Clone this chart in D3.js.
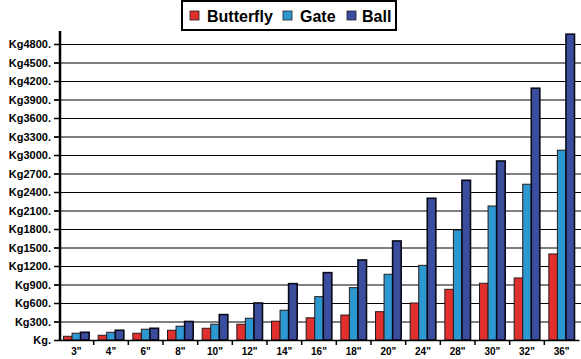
<!DOCTYPE html>
<html><head><meta charset="utf-8">
<script src="https://cdn.jsdelivr.net/npm/d3@7/dist/d3.min.js"></script>
<style>
body{margin:0;background:#fff;}
text{font-family:"Liberation Sans",Arial,sans-serif;font-weight:bold;}
</style></head>
<body>
<svg id="chart" width="581" height="359"></svg>
<script>
const categories = ['3"','4"','6"','8"','10"','12"','14"','16"','18"','20"','24"','28"','30"','32"','36"'];
const seriesNames = ["Butterfly","Gate","Ball"];
const butterfly = [60, 77, 110, 158, 190, 255, 305, 360, 405, 459, 600, 822, 920, 1006, 1395];
const gate = [110, 125, 175, 224, 256, 353, 483, 703, 849, 1066, 1211, 1784, 2173, 2526, 3078];
const ball = [125, 158, 190, 300, 412, 600, 914, 1092, 1298, 1606, 2298, 2590, 2903, 4083, 4959];
const yTicks = [0,300,600,900,1200,1500,1800,2100,2400,2700,3000,3300,3600,3900,4200,4500,4800];
const colors = ["#e0302e","#2d97cf","#3b4e9e"];

const svg = d3.select("#chart");
const x = d3.scaleBand().domain(categories).range([59, 579]).padding(0);
const x1 = d3.scaleBand().domain(seriesNames).range([4.5, x.bandwidth()-4.5]).padding(0);
const y = d3.scaleLinear().domain([0, 4800]).range([340, 44]);

// gridlines
svg.append("g").selectAll("line").data(yTicks.filter(d=>d>0)).join("line")
  .attr("x1", 54).attr("x2", 581)
  .attr("y1", d=>y(d)+0.5).attr("y2", d=>y(d)+0.5)
  .attr("stroke","#000").attr("stroke-width",1);

// y labels
svg.append("g").selectAll("text").data(yTicks).join("text")
  .attr("x", 51).attr("y", d=>y(d)+4)
  .attr("text-anchor","end").attr("font-size","11px").attr("fill","#000")
  .text(d => "Kg" + (d===0 ? "" : d) + ".");

// bars
const data = [butterfly, gate, ball];
const groups = svg.append("g");
categories.forEach((c,i)=>{
  seriesNames.forEach((s,j)=>{
    const v = data[j][i];
    groups.append("rect")
      .attr("x", x(c)+x1(s))
      .attr("y", y(v))
      .attr("width", x1.bandwidth())
      .attr("height", y(0)-y(v))
      .attr("fill", colors[j])
      .attr("stroke", j===2 ? "#0a0a1a" : "#2a1a1a")
      .attr("stroke-width", j===2 ? 1.6 : 1);
  });
});

// y axis line
svg.append("line").attr("x1",60).attr("x2",60).attr("y1",31).attr("y2",341)
  .attr("stroke","#000").attr("stroke-width",2.5);
// y ticks
svg.append("g").selectAll("line").data(yTicks).join("line")
  .attr("x1",54).attr("x2",60).attr("y1",d=>y(d)+0.5).attr("y2",d=>y(d)+0.5)
  .attr("stroke","#000").attr("stroke-width",1.5);

// x axis
const xAxis = d3.axisBottom(x).tickSize(0).tickPadding(8);
const gx = svg.append("g").attr("transform","translate(0,340)").call(xAxis);
gx.select(".domain").attr("stroke","#000").attr("stroke-width",1.5);
gx.selectAll("text").attr("font-size","10px").attr("font-family","Liberation Sans, Arial, sans-serif").attr("font-weight","bold").attr("fill","#000");
// boundary ticks
svg.append("g").selectAll("line").data(categories.slice(1)).join("line")
  .attr("x1",d=>x(d)).attr("x2",d=>x(d)).attr("y1",340).attr("y2",345)
  .attr("stroke","#000").attr("stroke-width",1.5);

// legend
const lg = svg.append("g");
lg.append("rect").attr("x",182).attr("y",1).attr("width",214).attr("height",29)
  .attr("fill","#fff").attr("stroke","#000").attr("stroke-width",2);
const legendX = [190, 283, 347];
const textX = [207, 300, 362];
seriesNames.forEach((s,j)=>{
  lg.append("rect").attr("x",legendX[j]).attr("y",11).attr("width",9).attr("height",9)
    .attr("fill",colors[j]).attr("stroke","#222").attr("stroke-width",0.8);
  lg.append("text").attr("x",textX[j]).attr("y",22).attr("font-size","16px").attr("fill","#000").text(s);
});
</script>
</body></html>
